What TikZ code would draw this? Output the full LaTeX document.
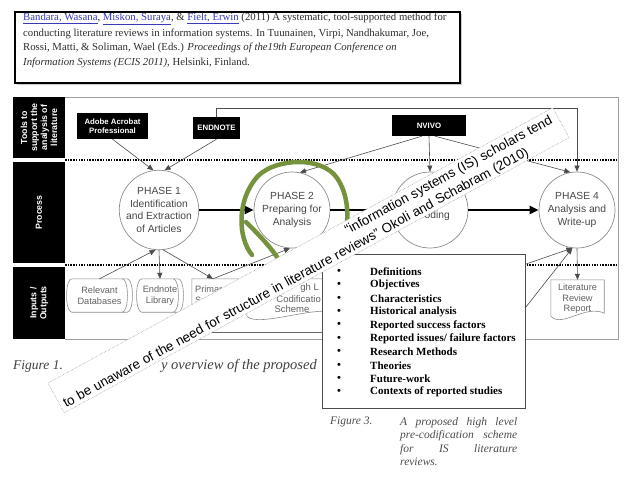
\documentclass[tikz,border=0pt]{standalone}
\usepackage{fontspec}
\setmainfont{Liberation Serif}
\setsansfont{Liberation Sans}
\usetikzlibrary{arrows.meta}
\definecolor{linkblue}{HTML}{3A3AB8}
\definecolor{inkgray}{HTML}{2E2E2E}
\definecolor{pengreen}{HTML}{76923C}
\definecolor{framegray}{HTML}{A0A0A0}
\definecolor{shapegray}{HTML}{8C8C8C}

\newcommand\citelink[1]{\textcolor{linkblue}{\underline{#1}}}
% horizontal cylinder round a node
\newcommand\cyloutline[1]{%
  \draw[shapeline] ([xshift=5pt]#1.north west) -- ([xshift=-5pt]#1.north east)
    .. controls ([xshift=2pt]#1.north east) and ([xshift=2pt]#1.south east) .. ([xshift=-5pt]#1.south east)
    -- ([xshift=5pt]#1.south west)
    .. controls ([xshift=-2pt]#1.south west) and ([xshift=-2pt]#1.north west) .. ([xshift=5pt]#1.north west);
  \draw[shapeline] ([xshift=-10pt]#1.north east)
    .. controls ([xshift=-3pt]#1.north east) and ([xshift=-3pt]#1.south east) .. ([xshift=-10pt]#1.south east);}
% document shape round a node
\newcommand\docoutline[1]{%
  \draw[shapeline] ([yshift=2pt]#1.south west) -- (#1.north west) -- (#1.north east) -- ([yshift=5pt]#1.south east)
    .. controls ([xshift=-19pt,yshift=14pt]#1.south east) and ([xshift=11pt,yshift=-10pt]#1.south west) .. ([yshift=2pt]#1.south west);}

\tikzset{
  citetext/.style={anchor=west, inner sep=0pt, text=inkgray, font=\fontsize{10.75}{13}\selectfont},
  lanetext/.style={text=white, rotate=90, align=center, inner sep=0pt, font=\sffamily\bfseries\fontsize{8.8}{10}\selectfont},
  toolbox/.style={fill=black, text=white, inner sep=0pt, align=center, font=\sffamily\bfseries\fontsize{7.8}{9.5}\selectfont},
  phase/.style={circle, draw=shapegray, line width=0.7pt, minimum size=76pt, inner sep=0pt, align=center, text=black!72, font=\sffamily\fontsize{10.3}{12.6}\selectfont},
  dataset/.style={minimum height=33pt, inner sep=0pt, align=center, text=black!62, font=\sffamily\fontsize{9.2}{10.5}\selectfont},
  shapeline/.style={draw=shapegray, line width=0.6pt},
  link/.style={draw=black!70, line width=0.6pt, -{Triangle[length=6pt,width=5pt]}},
  flow/.style={draw=black, line width=2.6pt, -{Triangle[length=9pt,width=8pt]}},
  sepline/.style={line width=1.5pt, dash pattern=on 1.5pt off 1.2pt},
  listtext/.style={anchor=west, inner sep=0pt, font=\bfseries\fontsize{11}{13}\selectfont},
  qword/.style={transform shape, anchor=base west, inner xsep=1.87pt, inner ysep=0pt, font=\sffamily\fontsize{13.4}{16}\selectfont},
}

\begin{document}
\begin{tikzpicture}[x=1pt, y=-1pt]
  \useasboundingbox (0,0) rectangle (638,479);
  \fill[white] (0,0) rectangle (638,479);

  % --- citation ---
  \fill[black!20] (17,14) rectangle (462,85);
  \filldraw[fill=white, draw=black, line width=1.2pt] (15,12) rectangle (460,83);
  \node[citetext] (cite1) at (23,19) {\citelink{Bandara, Wasana}, \citelink{Miskon, Suraya}, \& \citelink{Fielt, Erwin} (2011) A systematic, tool-supported method for};
  \node[citetext] (cite2) at (23,33.5) {conducting literature reviews in information systems. In Tuunainen, Virpi, Nandhakumar, Joe,};
  \node[citetext] (cite3) at (23,48) {Rossi, Matti, \& Soliman, Wael (Eds.) \textit{Proceedings of the19th European Conference on}};
  \node[citetext] (cite4) at (23,62.5) {\textit{Information Systems (ECIS 2011)}, Helsinki, Finland.};

  % --- frame and lanes ---
  \draw[framegray, line width=0.8pt] (65,97) -- (618,97) -- (618,339) -- (65,339);
  \draw[black!60, line width=0.7pt] (200,332) -- (322,332);
  \fill[black] (13,97) rectangle (65,158);
  \fill[black] (13,162) rectangle (65,263);
  \fill[black] (13,267) rectangle (65,339);
  \node[lanetext] (lanetools) at (39,127.5) {Tools to\\support the\\analysis of\\literature};
  \node[lanetext] (laneproc) at (39,212.5) {Process};
  \node[lanetext] (laneio) at (39,303) {Inputs /\\Outputs};
  \draw[sepline] (65,160) -- (618,160);
  \draw[sepline] (65,265) -- (618,265);

  % --- tools ---
  \node[toolbox, minimum width=71pt, minimum height=26pt] (acrobat) at (112.5,126) {Adobe Acrobat\\Professional};
  \node[toolbox, minimum width=47pt, minimum height=22pt] (endnote) at (216.5,128) {ENDNOTE};
  \node[toolbox, minimum width=74pt, minimum height=21pt] (nvivo) at (429,125.5) {NVIVO};

  % --- phases ---
  \node[phase] (ph1) at (159,210) {PHASE 1\\Identification\\and Extraction\\of Articles};
  \node[phase] (ph2) at (292,210) {PHASE 2\\Preparing for\\Analysis};
  \node[phase] (ph3) at (430,210) {};
  \node[anchor=mid, inner sep=0pt, text=black!72, font=\sffamily\fontsize{10.3}{12.6}\selectfont] (ph3txt) at (433.5,216) {Coding};
  \node[phase] (ph4) at (577,210) {PHASE 4\\Analysis and\\Write-up};

  \draw[flow] (ph1) -- (ph2);
  \draw[flow] (ph2) -- (ph3);
  \draw[flow] (ph3) -- (ph4);

  % tools to phases
  \draw[link] (acrobat.south) -- (ph1.98);
  \draw[link] (endnote.south) -- (ph1.82);
  \coordinate (ntop) at (577,108);
  \draw[link] (endnote.north) |- (ntop) -- (ph4.north);
  \draw[link] ([xshift=-7pt]nvivo.south) -- (ph2.78);
  \draw[link] (nvivo.south) -- (ph3.north);
  \draw[link] ([xshift=6pt]nvivo.south) -- (ph4.100);

  % --- inputs / outputs ---
  \node[dataset, minimum width=65pt] (dbase) at (99.5,295.5) {Relevant\\Databases};
  \cyloutline{dbase}
  \node[dataset, minimum width=46pt] (enlib) at (160,295.5) {Endnote\\Library};
  \cyloutline{enlib}
  \node[dataset, minimum width=46pt, minimum height=39pt] (prim) at (215,298.5) {};
  \docoutline{prim}
  \node[anchor=west, inner sep=0pt, text=black!62, font=\sffamily\fontsize{9.2}{10.5}\selectfont] (primtxt) at (195,289) {Primar};
  \node[anchor=west, inner sep=0pt, text=black!62, font=\sffamily\fontsize{9.2}{10.5}\selectfont] (primtxtb) at (195,300) {Se};
  \node[dataset, minimum width=90pt, minimum height=39pt] (scheme) at (292,298.5) {};
  \docoutline{scheme}
  \node[anchor=east, inner sep=0pt, text=black!62, font=\sffamily\fontsize{9.5}{10.5}\selectfont] (schemea) at (319,288) {gh L};
  \node[anchor=east, inner sep=0pt, text=black!62, font=\sffamily\fontsize{9.5}{10.5}\selectfont] (schemeb) at (321,299) {Codificatio};
  \node[inner sep=0pt, text=black!62, font=\sffamily\fontsize{9.5}{10.5}\selectfont] (schemec) at (292,309) {Scheme};
  \node[dataset, minimum width=53pt, minimum height=38pt] (report) at (577.5,299) {Literature\\Review\\Report};
  \docoutline{report}

  \draw[link] (dbase.north) -- (ph1.-95);
  \draw[link] (ph1.south) -- (enlib.north);
  \draw[link] (ph1.-84) -- ([xshift=-2pt]prim.north);
  \draw[link] ([xshift=-2pt]prim.north) -- (ph2.-93);
  \draw[link] (ph4.south) -- (report.north);
  \coordinate (hidA) at (500,273);
  \coordinate (hidB) at (500,340);
  \draw[link] (hidA) -- (ph4.-97);
  \draw[link] (hidB) -- (ph4.-97);

  % --- pen mark round phase 2 ---
  \draw[pengreen, line width=4.5pt, line cap=round]
    (252,255) .. controls (238,238) and (236,200) .. (258,176)
    .. controls (276,158) and (322,156) .. (337,178)
    .. controls (348,194) and (350,218) .. (344,236);
  \draw[pengreen, line width=4.5pt, line cap=round]
    (246,222) .. controls (258,234) and (268,244) .. (277,257);

  % --- figure 1 caption ---
  \node[anchor=base west, inner sep=0pt, text=black!75, font=\itshape\fontsize{13.5}{15}\selectfont] (fig1a) at (13,369) {Figure 1.};
  \node[anchor=base east, inner sep=0pt, text=black!75, font=\itshape\fontsize{14.5}{16}\selectfont] (fig1b) at (317,369) {y overview of the proposed};

  % --- figure 3 ---
  \filldraw[fill=white, draw=black!70, line width=0.8pt] (322,254) rectangle (525,408);
  \foreach \txt [count=\i] in {Definitions, Objectives, Characteristics, Historical analysis,
      Reported success factors, Reported issues/ failure factors, Research Methods,
      Theories, Future-work, Contexts of reported studies} {
    \node[listtext] (dot\i) at (337,{272+13.35*(\i-1)}) {\textbullet};
    \node[listtext] (item\i) at (370,{272+13.35*(\i-1)}) {\txt};
  }
  \node[anchor=base west, inner sep=0pt, text=black!70, font=\itshape\fontsize{11.5}{13.6}\selectfont] (fig3a) at (330,424) {Figure 3.};
  \node[anchor=north west, inner sep=0pt, text width=117pt, align=justify, text=black!70, font=\itshape\fontsize{11.5}{13.6}\selectfont] (fig3b) at (400,417)
    {A proposed high level\linebreak pre-codification scheme\linebreak for IS literature\linebreak reviews.};

  % --- quote box on top ---
  \begin{scope}[shift={(48,383)}, rotate=28.6]
    \filldraw[fill=white, draw=black!45, densely dotted, line width=0.5pt] (0,0) rectangle (575,34);
    \node[qword] (qa1) at (332,13.5) {“information};
    \foreach \w [count=\i from 2] in {systems, (IS), scholars, tend} {
      \pgfmathtruncatemacro\prevw{\i-1}
      \node[qword] (qa\i) at (qa\prevw.base east) {\w};
    }
    \node[qword] (qb1) at (2,30.5) {to};
    \foreach \w [count=\i from 2] in {be, unaware, of, the, need, for, structure, in,
        literature, reviews”, Okoli, and, Schabram, (2010)} {
      \pgfmathtruncatemacro\prevw{\i-1}
      \node[qword] (qb\i) at (qb\prevw.base east) {\w};
    }
  \end{scope}
\end{tikzpicture}
\end{document}
